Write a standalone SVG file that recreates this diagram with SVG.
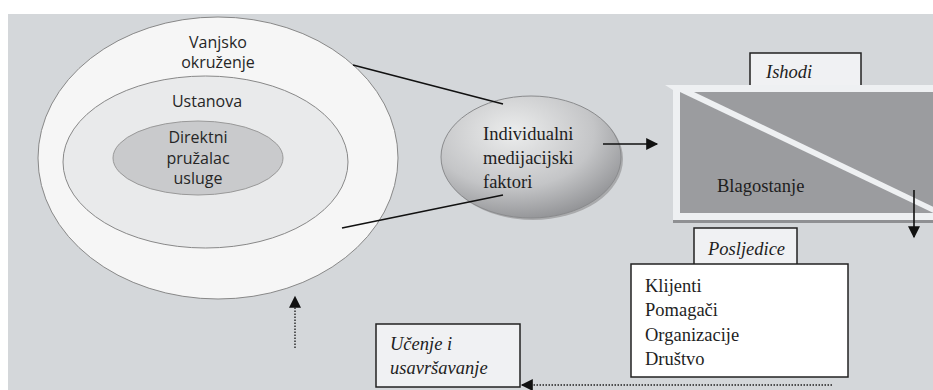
<svg xmlns="http://www.w3.org/2000/svg" width="933" height="390" viewBox="0 0 933 390">
<style>
.sans{font-family:"Open Sans","DejaVu Sans",sans-serif;font-size:16px;fill:#262626;text-anchor:middle}
.serif{font-family:"Liberation Serif","DejaVu Serif",serif;font-size:18.5px;fill:#1e1e1e}
.it{font-style:italic}
.line{stroke:#111;stroke-width:1.6;fill:none}
.dot{stroke:#222;stroke-width:1.4;stroke-dasharray:1.5 1.5;fill:none}
.box{fill:#f0f1f3;stroke:#222;stroke-width:1.5}
</style>
<defs>
<marker id="ah" viewBox="0 0 10 10" refX="9" refY="5" markerWidth="13" markerHeight="12" markerUnits="userSpaceOnUse" orient="auto"><path d="M0,0 L10,5 L0,10 Z" fill="#111"/></marker>
<radialGradient id="gr" cx="0.4" cy="0.3" r="0.75">
<stop offset="0" stop-color="#eceded"/>
<stop offset="0.6" stop-color="#c4c5c7"/>
<stop offset="1" stop-color="#8e8f92"/>
</radialGradient>
</defs>
<rect x="0" y="0" width="933" height="390" fill="#ffffff"/>
<rect x="8" y="14" width="925" height="376" fill="#d4d7da"/>
<g id="vanjsko">
<ellipse cx="218" cy="158" rx="180" ry="141" fill="#f6f6f6" stroke="#888" stroke-width="1"/>
<text class="sans" x="218" y="48">Vanjsko</text>
<text class="sans" x="218" y="68">okruženje</text>
</g>
<g id="ustanova">
<ellipse cx="205.5" cy="162" rx="142.5" ry="86" fill="#e9eaeb" stroke="#888" stroke-width="1"/>
<text class="sans" x="207" y="107">Ustanova</text>
</g>
<g id="direktni">
<ellipse cx="198" cy="158" rx="85" ry="37" fill="#c9cacc" stroke="#999" stroke-width="1"/>
<text class="sans" x="198" y="143">Direktni</text>
<text class="sans" x="198" y="164">pružalac</text>
<text class="sans" x="198" y="184">usluge</text>
</g>
<g id="individualni">
<ellipse cx="533" cy="159" rx="90" ry="61" fill="#a9aaac"/>
<ellipse cx="531" cy="157" rx="90" ry="61" fill="url(#gr)" stroke="#8a8b8d" stroke-width="1"/>
<text class="serif" x="483" y="140">Individualni</text>
<text class="serif" x="483" y="164">medijacijski</text>
<text class="serif" x="483" y="188">faktori</text>
</g>
<g id="ishodi">
<rect class="box" x="750" y="53" width="111" height="36"/>
<text class="serif it" x="766" y="78">Ishodi</text>
</g>
<g id="blagostanje">
<polygon points="665,85 940,85 940,220 673,220 673,90" fill="#eef0f2"/>
<rect x="673" y="220" width="270" height="3" fill="#8f9093"/>
<rect x="680" y="92" width="260" height="121" fill="#9b9c9f"/>
<polygon points="680,92 694,92 940,210 940,216" fill="#eef0f2"/>
<text class="serif" x="717" y="192">Blagostanje</text>
</g>
<g id="posljedice">
<rect class="box" x="694" y="228" width="103" height="40"/>
<text class="serif it" x="708" y="255">Posljedice</text>
</g>
<g id="klijenti">
<rect x="631" y="264" width="217" height="113" fill="#ffffff" stroke="#222" stroke-width="1.5"/>
<text class="serif" x="645" y="292">Klijenti</text>
<text class="serif" x="645" y="316">Pomagači</text>
<text class="serif" x="645" y="341">Organizacije</text>
<text class="serif" x="645" y="365">Društvo</text>
</g>
<g id="ucenje">
<rect class="box" x="376" y="324" width="144" height="63"/>
<text class="serif it" x="390" y="350">Učenje i</text>
<text class="serif it" x="390" y="374">usavršavanje</text>
</g>
<g id="connectors">
<line class="line" x1="353" y1="65" x2="503" y2="104"/>
<line class="line" x1="342" y1="228" x2="503" y2="195"/>
<line class="line" x1="603" y1="144" x2="657" y2="144" marker-end="url(#ah)"/>
<line class="line" x1="914" y1="190" x2="914" y2="237" marker-end="url(#ah)"/>
<line class="dot" x1="832" y1="385" x2="522" y2="385" marker-end="url(#ah)"/>
<line class="dot" x1="295" y1="348" x2="295" y2="297" marker-end="url(#ah)"/>
</g>
</svg>
